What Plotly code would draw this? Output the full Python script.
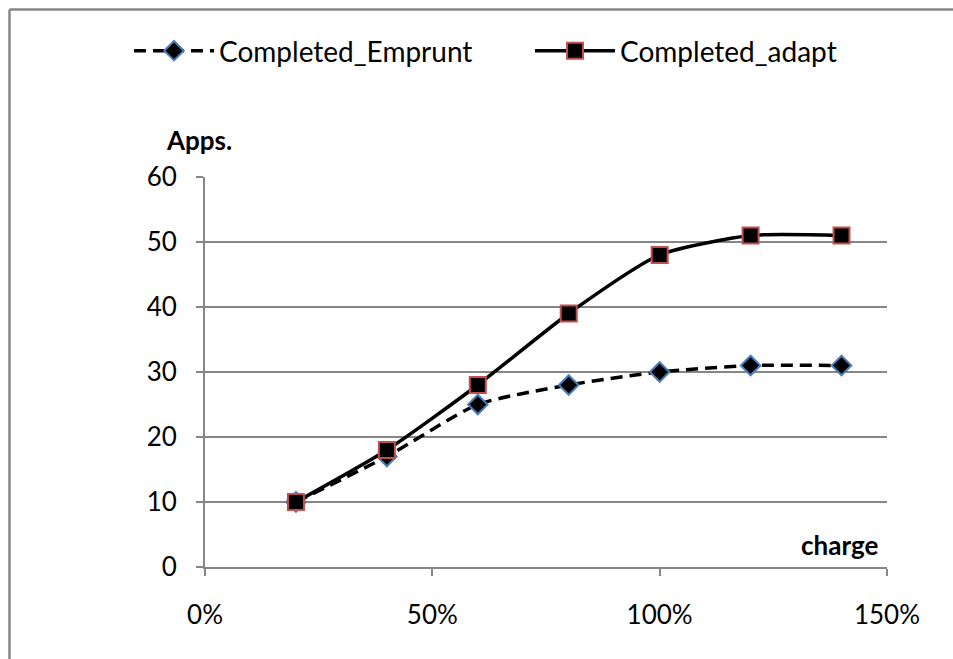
import plotly.graph_objects as go

charge = [0.2, 0.4, 0.6, 0.8, 1.0, 1.2, 1.4]
completed_emprunt = [10, 17, 25, 28, 30, 31, 31]
completed_adapt = [10, 18, 28, 39, 48, 51, 51]

FONT = "Lato"
GRAY = "#868686"

fig = go.Figure()
fig.add_trace(go.Scatter(
    x=charge, y=completed_emprunt, name="Completed_Emprunt", legend="legend",
    mode="lines+markers", line=dict(color="black", width=3.5, dash="12px,7px", shape="spline", smoothing=0.6),
    marker=dict(symbol="diamond", size=15, color="black", line=dict(color="#4a7ebb", width=2)),
))
fig.add_trace(go.Scatter(
    x=charge, y=completed_adapt, name="Completed_adapt", legend="legend2",
    mode="lines+markers", line=dict(color="black", width=3.5, shape="spline", smoothing=0.6),
    marker=dict(symbol="square", size=16, color="black", line=dict(color="#c0504d", width=2)),
))

W, H = 953, 659
L, T = 205, 177
pw, ph = 682, 390
R, B = W - L - pw, H - T - ph

def px(x):
    return (x - L) / pw

def py(y):
    return (T + ph - y) / ph

leg_common = dict(orientation="h", yanchor="middle", itemwidth=80, font=dict(size=28),
                  bgcolor="rgba(0,0,0,0)")

fig.update_layout(
    width=W, height=H,
    margin=dict(l=L, r=R, t=T, b=B, autoexpand=False),
    paper_bgcolor="white", plot_bgcolor="white",
    font=dict(family=FONT, size=26, color="black"),
    showlegend=True,
    legend=dict(x=px(129), xanchor="left", y=py(51), **leg_common),
    legend2=dict(x=px(530), xanchor="left", y=py(51), **leg_common),
    xaxis=dict(range=[0, 1.5], dtick=0.5, tick0=0, tickformat=".0%", showgrid=False,
               showline=True, linecolor=GRAY, linewidth=2, ticks="outside", ticklen=7,
               tickcolor=GRAY, tickwidth=2, ticklabelstandoff=17, zeroline=False,
               fixedrange=True),
    yaxis=dict(range=[0, 60], dtick=10, tick0=0, showgrid=True, gridcolor=GRAY, gridwidth=2,
               showline=True, linecolor=GRAY, linewidth=2, ticks="outside", ticklen=7,
               tickcolor=GRAY, tickwidth=2, ticklabelstandoff=14, zeroline=False,
               fixedrange=True),
    annotations=[
        dict(text="<b>Apps.</b>", xref="paper", yref="paper", x=px(164), y=py(140),
             xanchor="left", yanchor="middle", showarrow=False, font=dict(size=26)),
        dict(text="<b>charge</b>", xref="paper", yref="paper", x=px(880), y=py(545),
             xanchor="right", yanchor="middle", showarrow=False, font=dict(size=26)),
    ],
    shapes=[
        dict(type="line", xref="paper", yref="paper", x0=px(9.5), y0=py(9.5), x1=px(970), y1=py(9.5),
             line=dict(color=GRAY, width=2.5), layer="below"),
        dict(type="line", xref="paper", yref="paper", x0=px(9.5), y0=py(9.5), x1=px(9.5), y1=py(680),
             line=dict(color=GRAY, width=2.5), layer="below"),
    ],
)

fig.write_html(
    "out.html",
    config={"displayModeBar": False, "staticPlot": True},
    post_script="document.body.style.margin='0';document.body.style.overflow='hidden';",
)
